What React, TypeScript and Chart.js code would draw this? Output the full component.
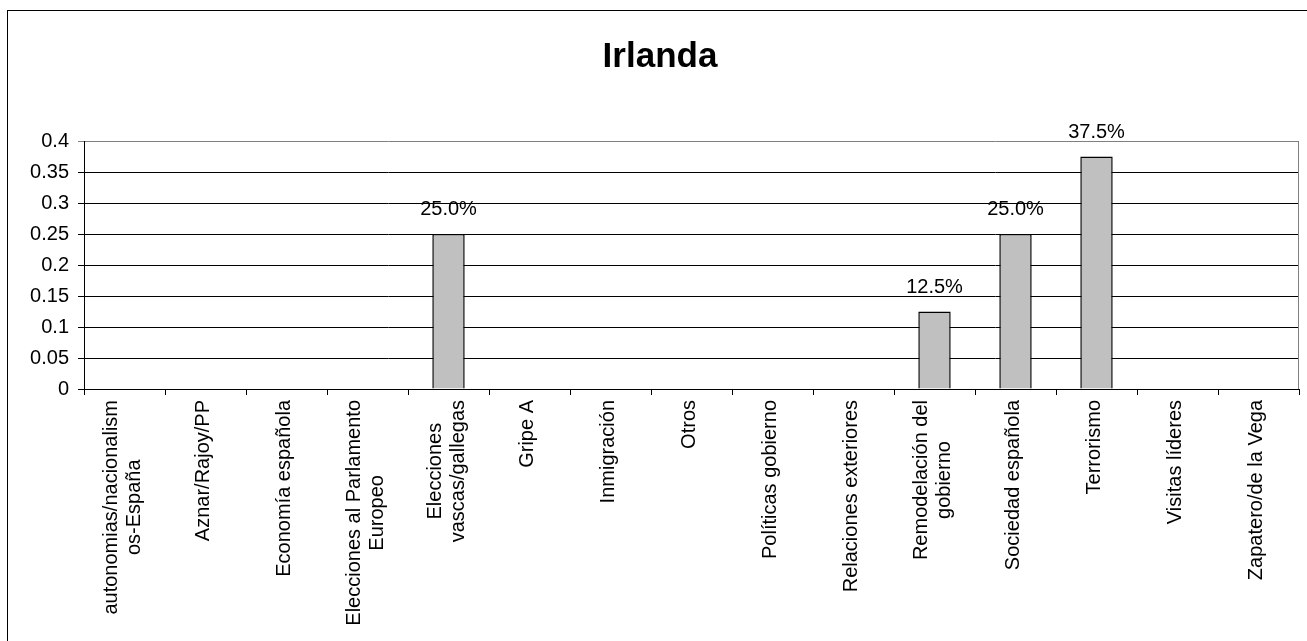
import React, { useEffect, useRef } from "react";
import { Chart, registerables } from "chart.js";

Chart.register(...registerables);

const TITLE = "Irlanda";

const CATEGORIES: string[][] = [
  ["autonomias/nacionalism", "os-España"],
  ["Aznar/Rajoy/PP"],
  ["Economía española"],
  ["Elecciones al Parlamento", "Europeo"],
  ["Elecciones", "vascas/gallegas"],
  ["Gripe A"],
  ["Inmigración"],
  ["Otros"],
  ["Políticas gobierno"],
  ["Relaciones exteriores"],
  ["Remodelación del", "gobierno"],
  ["Sociedad española"],
  ["Terrorismo"],
  ["Visitas líderes"],
  ["Zapatero/de la Vega"],
];

const VALUES: number[] = [0, 0, 0, 0, 0.25, 0, 0, 0, 0, 0, 0.125, 0.25, 0.375, 0, 0];

const Y_TICKS: number[] = [0, 0.05, 0.1, 0.15, 0.2, 0.25, 0.3, 0.35, 0.4];
const Y_TICK_LABELS: string[] = ["0", "0.05", "0.1", "0.15", "0.2", "0.25", "0.3", "0.35", "0.4"];

const FONT = "'Liberation Sans', Arial, sans-serif";
const TEXT_SIZE = 20;
const LINE_H = 23;

export default function App() {
  const ref = useRef<HTMLCanvasElement | null>(null);

  useEffect(() => {
    if (!ref.current) return;

    const framePlugin = {
      id: "frame",
      beforeDraw(chart: any) {
        const ctx = chart.ctx;
        ctx.save();
        ctx.strokeStyle = "#000";
        ctx.lineWidth = 1;
        ctx.strokeRect(7.5, 10.5, 2000, 2000);
        ctx.restore();
      },
      beforeDatasetsDraw(chart: any) {
        const { ctx, chartArea } = chart;
        ctx.save();
        ctx.strokeStyle = "#808080";
        ctx.lineWidth = 1;
        ctx.beginPath();
        const x = Math.round(chartArea.right) - 0.5;
        ctx.moveTo(x, chartArea.top);
        ctx.lineTo(x, chartArea.bottom);
        ctx.stroke();
        ctx.restore();
      },
    };

    const textPlugin = {
      id: "texts",
      afterDatasetsDraw(chart: any) {
        const { ctx } = chart;
        const meta = chart.getDatasetMeta(0);
        ctx.save();
        ctx.fillStyle = "#000";
        ctx.font = `${TEXT_SIZE}px ${FONT}`;
        ctx.textAlign = "center";
        ctx.textBaseline = "alphabetic";
        meta.data.forEach((bar: any, i: number) => {
          const v = VALUES[i];
          if (v > 0) {
            ctx.fillText((v * 100).toFixed(1) + "%", bar.x, bar.y - 19);
          }
        });
        ctx.restore();
      },
      afterDraw(chart: any) {
        const { ctx, chartArea } = chart;
        const xs = chart.scales.x;
        ctx.save();
        ctx.fillStyle = "#000";
        // title
        ctx.font = `bold 35px ${FONT}`;
        ctx.textAlign = "center";
        ctx.textBaseline = "alphabetic";
        ctx.fillText(TITLE, 660, 67);
        // category labels
        ctx.font = `${TEXT_SIZE}px ${FONT}`;
        const top = chartArea.bottom + 11;
        CATEGORIES.forEach((lines, i) => {
          const cx = xs.getPixelForTick(i);
          const maxW = Math.max(...lines.map((l) => ctx.measureText(l).width));
          const n = lines.length;
          lines.forEach((line, j) => {
            const bx = cx + (j - (n - 1) / 2) * LINE_H + 3.5;
            ctx.save();
            ctx.translate(bx, top + maxW / 2);
            ctx.rotate(-Math.PI / 2);
            ctx.textAlign = "center";
            ctx.textBaseline = "alphabetic";
            ctx.fillText(line, 0, 0);
            ctx.restore();
          });
        });
        ctx.restore();
      },
    };

    const chart = new Chart(ref.current, {
      type: "bar",
      data: {
        labels: CATEGORIES.map((c) => c.join(" ")),
        datasets: [
          {
            data: VALUES,
            backgroundColor: "#C0C0C0",
            borderColor: "#000000",
            borderWidth: 1.5,
            barPercentage: 0.4,
            categoryPercentage: 1.0,
          },
        ],
      },
      options: {
        responsive: false,
        animation: false,
        layout: { padding: { top: 141, right: 8, left: 0, bottom: 0 } },
        plugins: {
          legend: { display: false },
          title: { display: false },
          tooltip: { enabled: false },
        },
        scales: {
          x: {
            offset: true,
            grid: {
              offset: true,
              drawOnChartArea: false,
              drawTicks: true,
              tickLength: 6,
              color: "#000",
            },
            border: { display: true, color: "#000", width: 1 },
            ticks: { display: false },
            afterFit: (scale: any) => {
              scale.height = 252;
            },
          },
          y: {
            min: 0,
            max: 0.4,
            afterBuildTicks: (scale: any) => {
              scale.ticks = Y_TICKS.map((v) => ({ value: v }));
            },
            grid: {
              color: (c: any) => (c.tick && c.tick.value >= 0.399 ? "#808080" : "#000000"),
              tickLength: 6,
              lineWidth: 1,
            },
            border: { display: true, color: "#000", width: 1 },
            ticks: {
              color: "#000",
              padding: 9,
              font: { family: FONT, size: TEXT_SIZE },
              callback: (_v: any, i: number) => Y_TICK_LABELS[i],
            },
            afterFit: (scale: any) => {
              scale.width = 84;
            },
          },
        },
      },
      plugins: [framePlugin, textPlugin],
    });

    return () => chart.destroy();
  }, []);

  return (
    <div style={{ position: "fixed", left: 0, top: 0, width: 1307, height: 641, background: "#fff" }}>
      <canvas ref={ref} width={1307} height={641} style={{ display: "block" }} />
    </div>
  );
}
